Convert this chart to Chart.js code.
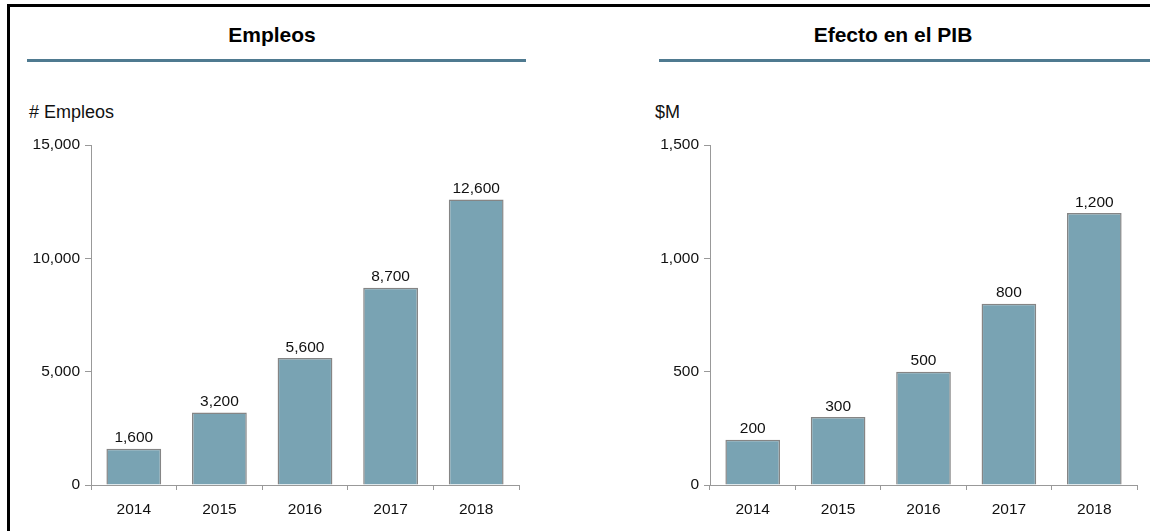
<!DOCTYPE html>
<html>
<head>
<meta charset="utf-8">
<script src="https://cdn.jsdelivr.net/npm/chart.js@4/dist/chart.umd.min.js"></script>
<style>
  html, body { margin: 0; padding: 0; background: #fff; overflow: hidden; }
  body { width: 1150px; height: 531px; position: relative; font-family: "Liberation Sans", Arial, sans-serif; color: #111; }
  .frame { position: absolute; left: 7px; top: 4px; width: 1300px; height: 700px; border: 3px solid #000; }
  .title { position: absolute; top: 24px; width: 240px; text-align: center; font-size: 21px; line-height: 21px; font-weight: bold; color: #000; }
  .rule { position: absolute; top: 59px; height: 3px; background: #4f7a90; }
  .unit { position: absolute; top: 103px; font-size: 18px; line-height: 18px; }
  canvas { position: absolute; top: 120px; }
</style>
</head>
<body>
<div class="frame"></div>
<div class="title" style="left:152px">Empleos</div>
<div class="title" style="left:773px">Efecto en el PIB</div>
<div class="rule" style="left:27px;width:499px"></div>
<div class="rule" style="left:659px;width:491px"></div>
<div class="unit" style="left:29px"># Empleos</div>
<div class="unit" style="left:655px">$M</div>
<canvas id="empleosChart" width="545" height="411" style="left:0px"></canvas>
<canvas id="pibChart" width="530" height="411" style="left:620px"></canvas>
<script>
const years = ["2014", "2015", "2016", "2017", "2018"];
const empleos = [1600, 3200, 5600, 8700, 12600];
const pib = [200, 300, 500, 800, 1200];
const empleosMax = 15000;
const empleosStep = 5000;
const pibMax = 1500;
const pibStep = 500;

const fontFamily = "'Liberation Sans', Arial, sans-serif";
const fmt = (v) => Number(v).toLocaleString("en-US");

// draws the value above each bar
const valueLabels = {
  id: "valueLabels",
  afterDatasetsDraw(chart) {
    const ctx = chart.ctx;
    ctx.save();
    ctx.font = "15.5px " + fontFamily;
    ctx.fillStyle = "#111";
    ctx.textAlign = "center";
    ctx.textBaseline = "alphabetic";
    chart.getDatasetMeta(0).data.forEach((bar, i) => {
      ctx.fillText(fmt(chart.data.datasets[0].data[i]), bar.x, bar.y - 6.5);
    });
    ctx.restore();
  },
};

function drawChart(canvasId, values, max, step, axisWidth, rightPad) {
  return new Chart(document.getElementById(canvasId), {
    type: "bar",
    data: {
      labels: years,
      datasets: [
        {
          data: values,
          backgroundColor: "#79a3b3",
          borderColor: "#858585",
          borderWidth: 1.5,
          barPercentage: 0.64,
          categoryPercentage: 1,
        },
      ],
    },
    options: {
      responsive: false,
      animation: false,
      devicePixelRatio: 1,
      layout: { padding: { top: 25, left: 0, right: rightPad, bottom: 0 } },
      plugins: { legend: { display: false }, tooltip: { enabled: false } },
      scales: {
        x: {
          grid: { drawOnChartArea: false, drawTicks: true, tickLength: 5, color: "#999", offset: true },
          border: { display: true, color: "#999", width: 1 },
          ticks: { color: "#111", font: { family: fontFamily, size: 15.5 }, padding: 10, maxRotation: 0 },
          afterFit(scale) { scale.height = 46; },
        },
        y: {
          min: 0,
          max: max,
          grid: { drawOnChartArea: false, drawTicks: true, tickLength: 6, color: "#999" },
          border: { display: true, color: "#999", width: 1 },
          ticks: {
            stepSize: step,
            color: "#111",
            font: { family: fontFamily, size: 15.5 },
            padding: 5,
            callback: (v) => fmt(v),
          },
          afterFit(scale) { scale.width = axisWidth; },
        },
      },
    },
    plugins: [valueLabels],
  });
}

drawChart("empleosChart", empleos, empleosMax, empleosStep, 91, 26);
drawChart("pibChart", pib, pibMax, pibStep, 90, 13);
</script>
</body>
</html>
